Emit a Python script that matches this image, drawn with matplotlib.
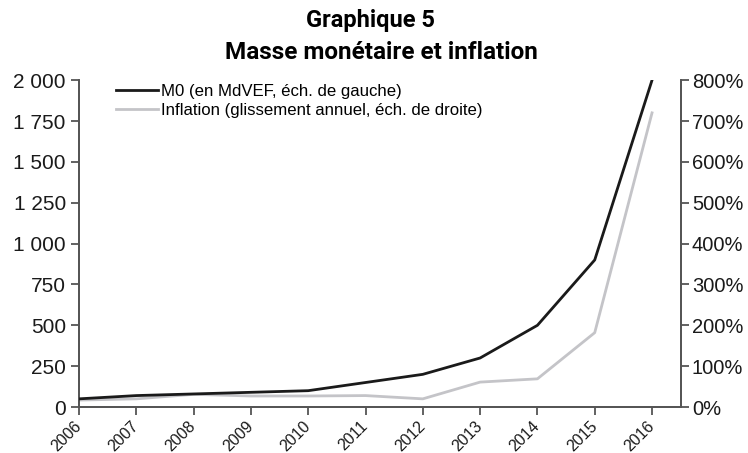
import matplotlib
matplotlib.use("Agg")
import matplotlib.pyplot as plt
from matplotlib.ticker import FuncFormatter

plt.rcParams['font.family'] = ['Liberation Sans', 'DejaVu Sans']

# data
years = [2006, 2007, 2008, 2009, 2010, 2011, 2012, 2013, 2014, 2015, 2016]
m0 = [50, 70, 80, 90, 100, 150, 200, 300, 500, 900, 2000]
inflation = [17, 20, 31, 27, 27, 28, 20, 61, 69, 182, 720]

label_m0 = "M0 (en MdVEF, éch. de gauche)"
label_infl = "Inflation (glissement annuel, éch. de droite)"

fig = plt.figure(figsize=(7.48, 4.53), dpi=100)
ax = fig.add_axes([0.1056, 0.1015, 0.8044, 0.7215])
ax2 = ax.twinx()

axis_col = '#555555'
l1, = ax.plot(years, m0, color='#1a1a1a', lw=2, label=label_m0, zorder=3)
l2, = ax2.plot(years, inflation, color='#c4c4c8', lw=2, label=label_infl, zorder=2)
ax.set_zorder(ax2.get_zorder() + 1)
ax.patch.set_visible(False)

ax.set_xlim(2006, 2016.5)
ax.set_ylim(0, 2000)
ax2.set_ylim(0, 800)
ax.set_xticks(years)
ax.set_xticklabels([str(y) for y in years], rotation=45, ha='right', va='center',
                   rotation_mode='anchor', fontsize=11.5)
ax.set_yticks(range(0, 2001, 250))
ax.yaxis.set_major_formatter(FuncFormatter(lambda v, p: f"{int(v):,}".replace(",", " ")))
ax2.set_yticks(range(0, 801, 100))
ax2.yaxis.set_major_formatter(FuncFormatter(lambda v, p: f"{int(v)}%"))

for a in (ax, ax2):
    a.spines['top'].set_visible(False)
    for s in ('left', 'right', 'bottom'):
        a.spines[s].set_color(axis_col)
        a.spines[s].set_linewidth(1.3)
    a.tick_params(colors=axis_col, labelcolor='#1a1a1a', length=6, width=1.3, labelsize=15)
ax2.tick_params(labelsize=14.5, pad=2)
ax.tick_params(axis='x', labelsize=11.5, pad=6)

ax.legend(handles=[l1, l2], loc='upper left', bbox_to_anchor=(0.05, 1.01),
          frameon=False, fontsize=12.1, handlelength=2.5, handletextpad=0.2,
          labelspacing=0.25, borderaxespad=0)

title_font = ['Roboto', 'DejaVu Sans']
fig.text(0.495, 0.955, "Graphique 5", ha='center', va='center',
         fontsize=17, fontweight='bold', family=title_font)
fig.text(0.51, 0.885, "Masse monétaire et inflation", ha='center', va='center',
         fontsize=17.5, fontweight='bold', family=title_font)

fig.savefig("out.png", dpi=100)
